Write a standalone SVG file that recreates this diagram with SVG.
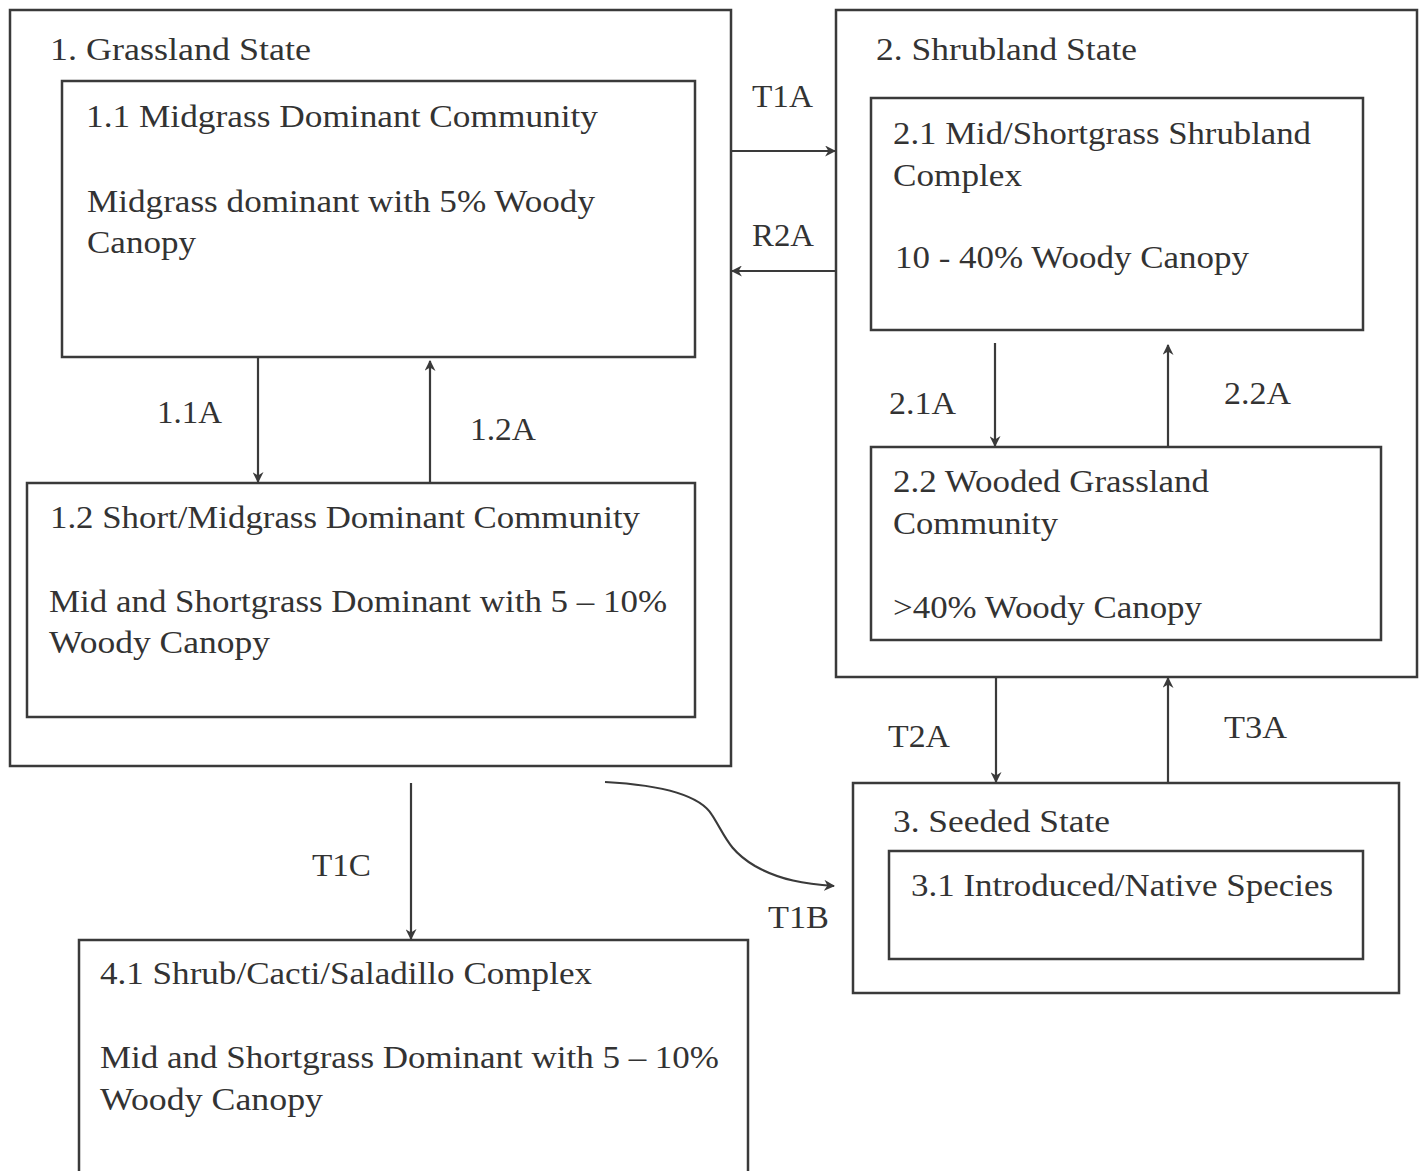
<svg xmlns="http://www.w3.org/2000/svg" width="1424" height="1171" viewBox="0 0 1424 1171">
<style>
.box{fill:none;stroke:#3a3a3a;stroke-width:2.5}
.t{font-family:"Liberation Serif","Times New Roman",serif;font-size:31px;fill:#333}
.c{fill:none;stroke:#3a3a3a;stroke-width:2.2}
</style>
<defs>
<marker id="ah" viewBox="0 0 10 10" refX="9" refY="5" markerWidth="11" markerHeight="11" markerUnits="userSpaceOnUse" orient="auto">
<path d="M0,0 L10,5 L0,10 L3,5 Z" fill="#3a3a3a"/>
</marker>
</defs>
<rect width="1424" height="1171" fill="#fff"/>
<g id="state1">
<rect class="box" x="10" y="10" width="721" height="756"/>
<text class="t" x="50" y="60" textLength="261" lengthAdjust="spacingAndGlyphs">1.  Grassland State</text>
</g>
<g id="c11">
<rect class="box" x="62" y="81" width="633" height="276"/>
<text class="t" x="86" y="127" textLength="512" lengthAdjust="spacingAndGlyphs">1.1  Midgrass Dominant Community</text>
<text class="t" x="87" y="212" textLength="508" lengthAdjust="spacingAndGlyphs">Midgrass dominant with 5% Woody</text>
<text class="t" x="87" y="253" textLength="109" lengthAdjust="spacingAndGlyphs">Canopy</text>
</g>
<g id="c12">
<rect class="box" x="27" y="483" width="668" height="234"/>
<text class="t" x="50" y="528" textLength="590" lengthAdjust="spacingAndGlyphs">1.2 Short/Midgrass Dominant Community</text>
<text class="t" x="49" y="612" textLength="618" lengthAdjust="spacingAndGlyphs">Mid and Shortgrass Dominant with 5 – 10%</text>
<text class="t" x="49" y="653" textLength="221" lengthAdjust="spacingAndGlyphs">Woody Canopy</text>
</g>
<g id="state2">
<rect class="box" x="836" y="10" width="581" height="667"/>
<text class="t" x="876" y="60" textLength="261" lengthAdjust="spacingAndGlyphs">2.  Shrubland State</text>
</g>
<g id="c21">
<rect class="box" x="871" y="98" width="492" height="232"/>
<text class="t" x="893" y="144" textLength="418" lengthAdjust="spacingAndGlyphs">2.1 Mid/Shortgrass Shrubland</text>
<text class="t" x="893" y="186" textLength="129" lengthAdjust="spacingAndGlyphs">Complex</text>
<text class="t" x="895" y="268" textLength="354" lengthAdjust="spacingAndGlyphs">10 - 40% Woody Canopy</text>
</g>
<g id="c22">
<rect class="box" x="871" y="447" width="510" height="193"/>
<text class="t" x="893" y="492" textLength="316" lengthAdjust="spacingAndGlyphs">2.2 Wooded Grassland</text>
<text class="t" x="893" y="534" textLength="165" lengthAdjust="spacingAndGlyphs">Community</text>
<text class="t" x="893" y="618" textLength="309" lengthAdjust="spacingAndGlyphs">&gt;40% Woody Canopy</text>
</g>
<g id="state3">
<rect class="box" x="853" y="783" width="546" height="210"/>
<text class="t" x="893" y="832" textLength="217" lengthAdjust="spacingAndGlyphs">3.  Seeded State</text>
</g>
<g id="c31">
<rect class="box" x="889" y="851" width="474" height="108"/>
<text class="t" x="911" y="896" textLength="422" lengthAdjust="spacingAndGlyphs">3.1 Introduced/Native Species</text>
</g>
<g id="c41">
<rect class="box" x="79" y="940" width="669" height="260"/>
<text class="t" x="100" y="984" textLength="492" lengthAdjust="spacingAndGlyphs">4.1 Shrub/Cacti/Saladillo Complex</text>
<text class="t" x="100" y="1068" textLength="619" lengthAdjust="spacingAndGlyphs">Mid and Shortgrass Dominant with 5 – 10%</text>
<text class="t" x="100" y="1110" textLength="223" lengthAdjust="spacingAndGlyphs">Woody Canopy</text>
</g>
<g id="connectors">
<line class="c" x1="731" y1="151" x2="835" y2="151" marker-end="url(#ah)"/>
<line class="c" x1="836" y1="271" x2="732" y2="271" marker-end="url(#ah)"/>
<line class="c" x1="258" y1="357" x2="258" y2="482" marker-end="url(#ah)"/>
<line class="c" x1="430" y1="483" x2="430" y2="361" marker-end="url(#ah)"/>
<line class="c" x1="995" y1="343" x2="995" y2="446" marker-end="url(#ah)"/>
<line class="c" x1="1168" y1="447" x2="1168" y2="345" marker-end="url(#ah)"/>
<line class="c" x1="996" y1="677" x2="996" y2="782" marker-end="url(#ah)"/>
<line class="c" x1="1168" y1="783" x2="1168" y2="678" marker-end="url(#ah)"/>
<line class="c" x1="411" y1="783" x2="411" y2="939" marker-end="url(#ah)"/>
<path class="c" d="M605,782 C660,785 700,795 712,815 C725,835 728,850 755,866 C780,880 805,884 834,886" marker-end="url(#ah)"/>
<text class="t" x="752" y="107" textLength="61" lengthAdjust="spacingAndGlyphs">T1A</text>
<text class="t" x="752" y="246" textLength="62" lengthAdjust="spacingAndGlyphs">R2A</text>
<text class="t" x="157" y="423" textLength="65" lengthAdjust="spacingAndGlyphs">1.1A</text>
<text class="t" x="470" y="440" textLength="66" lengthAdjust="spacingAndGlyphs">1.2A</text>
<text class="t" x="889" y="414" textLength="67" lengthAdjust="spacingAndGlyphs">2.1A</text>
<text class="t" x="1224" y="404" textLength="67" lengthAdjust="spacingAndGlyphs">2.2A</text>
<text class="t" x="888" y="747" textLength="62" lengthAdjust="spacingAndGlyphs">T2A</text>
<text class="t" x="1224" y="738" textLength="63" lengthAdjust="spacingAndGlyphs">T3A</text>
<text class="t" x="312" y="876" textLength="59" lengthAdjust="spacingAndGlyphs">T1C</text>
<text class="t" x="768" y="928" textLength="61" lengthAdjust="spacingAndGlyphs">T1B</text>
</g>
</svg>
